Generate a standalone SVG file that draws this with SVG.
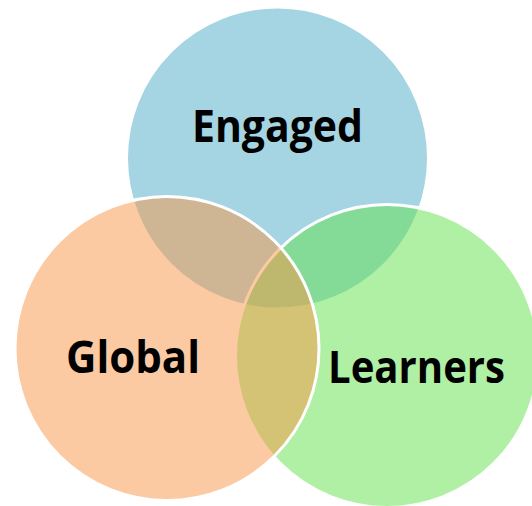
<svg xmlns="http://www.w3.org/2000/svg" width="532" height="506" viewBox="0 0 532 506">
  <style>
    .c { stroke: #ffffff; stroke-width: 3; fill-opacity: 0.5; }
    .t { font-family: "Open Sans", "Noto Sans", "Liberation Sans", sans-serif; font-weight: bold; font-size: 44px; fill: #000000; text-anchor: middle; }
  </style>
  <rect width="532" height="506" fill="#ffffff"/>
  <g id="engaged">
    <circle class="c" cx="277.5" cy="158" r="151" fill="#4BACC6"/>
  </g>
  <g id="learners">
    <circle class="c" cx="387" cy="356" r="151.5" fill="#61E14B"/>
  </g>
  <g id="global">
    <circle class="c" cx="167" cy="348.5" r="152" fill="#F79646"/>
  </g>
  <g id="labels">
    <text class="t" x="277.5" y="142" textLength="171" lengthAdjust="spacingAndGlyphs">Engaged</text>
    <text class="t" x="133" y="373" textLength="134" lengthAdjust="spacingAndGlyphs">Global</text>
    <text class="t" x="416.5" y="383" textLength="177" lengthAdjust="spacingAndGlyphs">Learners</text>
  </g>
  <g id="connectors"></g>
</svg>
